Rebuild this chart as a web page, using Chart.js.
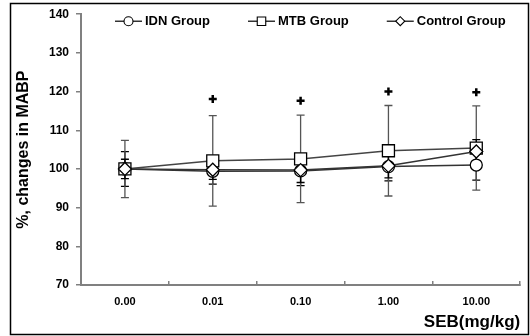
<!DOCTYPE html>
<html>
<head>
<meta charset="utf-8">
<script src="https://cdn.jsdelivr.net/npm/chart.js@4.4.1/dist/chart.umd.min.js"></script>
<style>
  html, body { margin: 0; padding: 0; background: #fff; }
  canvas { display: block; }
</style>
</head>
<body>
<canvas id="mabpChart" width="530" height="336"></canvas>
<script>
// ── Data ─────────────────────────────────────────────────────────────────────
const doses = ['0.00', '0.01', '0.10', '1.00', '10.00'];

const idnMean = [100, 99.4, 99.5, 100.6, 101.0];
const idnSd   = [4.5, 3.3, 3.8, 3.7, 3.9];

const mtbMean = [100, 102.1, 102.6, 104.7, 105.4];
const mtbSd   = [7.4, 11.7, 11.3, 11.7, 10.9];

const ctrlMean = [100, 99.8, 99.7, 100.8, 104.5];
const ctrlSd   = [2.5, 2.5, 3.2, 3.1, 3.1];

// significance marks (+)
const sigMarks = [null, 118.1, 117.6, 120.0, 119.8];

const yTicks = [70, 80, 90, 100, 110, 120, 130, 140];

// ── Plugins ──────────────────────────────────────────────────────────────────
const errorBars = {
    id: 'errorBars',
    beforeDatasetsDraw(chart) {
        const { ctx, scales: { y } } = chart;
        chart.data.datasets.forEach((ds, i) => {
            if (!ds.sd) return;
            const meta = chart.getDatasetMeta(i);
            ctx.save();
            ctx.strokeStyle = ds.errorColor;
            ctx.lineWidth = 1.3;
            meta.data.forEach((pt, j) => {
                const v = ds.data[j], s = ds.sd[j];
                const px = pt.x;
                const top = y.getPixelForValue(v + s);
                const bot = y.getPixelForValue(v - s);
                ctx.beginPath();
                ctx.moveTo(px, top); ctx.lineTo(px, bot);
                ctx.moveTo(px - 4, top); ctx.lineTo(px + 4, top);
                ctx.moveTo(px - 4, bot); ctx.lineTo(px + 4, bot);
                ctx.stroke();
            });
            ctx.restore();
        });
    }
};

// legend sits inside the plot, line + marker per series
const innerLegend = {
    id: 'innerLegend',
    afterDraw(chart) {
        const { ctx, chartArea } = chart;
        const items = chart.data.datasets.filter(ds => ds.inLegend);
        ctx.save();
        ctx.font = 'bold 13px "Liberation Sans", Arial, sans-serif';
        ctx.textBaseline = 'middle';
        const cy = chartArea.top + 7;
        let x = chartArea.left + 34;
        items.forEach(ds => {
            ctx.strokeStyle = '#000';
            ctx.lineWidth = 1.2;
            ctx.beginPath();
            ctx.moveTo(x, cy); ctx.lineTo(x + 27, cy);
            ctx.stroke();
            ctx.fillStyle = '#fff';
            ctx.strokeStyle = '#000';
            ctx.lineWidth = 1.1;
            Chart.helpers.drawPoint(ctx, {
                pointStyle: ds.pointStyle,
                radius: ds.legendRadius,
                rotation: 0,
                borderWidth: 1.1
            }, x + 13.5, cy);
            ctx.fillStyle = '#000';
            ctx.fillText(ds.label, x + 30, cy + 0.5);
            x += 30 + ctx.measureText(ds.label).width + 38;
        });
        ctx.restore();
    }
};

const frame = {
    id: 'frame',
    afterDraw(chart) {
        const { ctx } = chart;
        ctx.save();
        ctx.strokeStyle = '#000';
        ctx.lineWidth = 1.5;
        ctx.strokeRect(10.5, 3.5, 518, 331);
        ctx.restore();
    }
};

// ── Chart ────────────────────────────────────────────────────────────────────
const ctx = document.getElementById('mabpChart').getContext('2d');
const lineStyle = {
    borderColor: '#333',
    borderWidth: 1.5,
    pointBackgroundColor: '#fff',
    pointBorderColor: '#000',
    pointBorderWidth: 1.3,
    tension: 0,
    fill: false,
    inLegend: true,
};

const chart = new Chart(ctx, {
    type: 'line',
    data: {
        labels: doses,
        datasets: [
            {
                ...lineStyle,
                label: 'IDN Group',
                data: idnMean,
                sd: idnSd,
                errorColor: '#000',
                pointStyle: 'circle',
                pointRadius: 6,
                legendRadius: 4.5,
                order: 3,
            },
            {
                ...lineStyle,
                label: 'MTB Group',
                data: mtbMean,
                sd: mtbSd,
                errorColor: '#555',
                borderColor: '#444',
                pointStyle: 'rect',
                pointRadius: 8.5,
                legendRadius: 6,
                order: 2,
            },
            {
                ...lineStyle,
                label: 'Control Group',
                data: ctrlMean,
                sd: ctrlSd,
                errorColor: '#000',
                pointStyle: 'rectRot',
                pointRadius: 6.5,
                legendRadius: 4.5,
                order: 1,
            },
            {
                label: '',
                data: sigMarks,
                showLine: false,
                pointStyle: 'cross',
                pointRadius: 4,
                pointBorderWidth: 2.5,
                pointBorderColor: '#000',
                borderColor: '#000',
                order: 0,
            }
        ]
    },
    options: {
        responsive: false,
        animation: false,
        events: [],
        layout: { padding: { top: 14, right: 2, left: 0, bottom: 0 } },
        plugins: {
            legend: { display: false },
            tooltip: { enabled: false }
        },
        scales: {
            x: {
                offset: true,
                grid: {
                    offset: true,
                    drawOnChartArea: false,
                    tickLength: -4,
                    color: '#808080',
                    lineWidth: 1.5
                },
                border: { color: '#808080', width: 2 },
                ticks: {
                    color: '#000',
                    padding: 14,
                    maxRotation: 0,
                    font: { family: '"Liberation Sans", Arial, sans-serif', size: 11, weight: 'bold' }
                },
                title: {
                    display: true,
                    text: 'SEB(mg/kg)',
                    align: 'end',
                    color: '#000',
                    padding: { top: 0, bottom: 3 },
                    font: { family: '"Liberation Sans", Arial, sans-serif', size: 17, weight: 'bold' }
                },
                afterFit(scale) { scale.height = 51; }
            },
            y: {
                min: yTicks[0],
                max: yTicks[yTicks.length - 1],
                afterBuildTicks(scale) { scale.ticks = yTicks.map(v => ({ value: v })); },
                grid: {
                    drawOnChartArea: false,
                    tickLength: 5,
                    color: '#808080',
                    lineWidth: 1.5
                },
                border: { color: '#808080', width: 2 },
                ticks: {
                    color: '#000',
                    padding: 7,
                    font: { family: '"Liberation Sans", Arial, sans-serif', size: 12, weight: 'bold' }
                },
                title: {
                    display: true,
                    text: '%, changes in MABP',
                    color: '#000',
                    padding: { top: 14, bottom: 0 },
                    font: { family: '"Liberation Sans", Arial, sans-serif', size: 16, weight: 'bold' }
                },
                afterFit(scale) { scale.width = 81; }
            }
        }
    },
    plugins: [errorBars, innerLegend, frame]
});
</script>
</body>
</html>
